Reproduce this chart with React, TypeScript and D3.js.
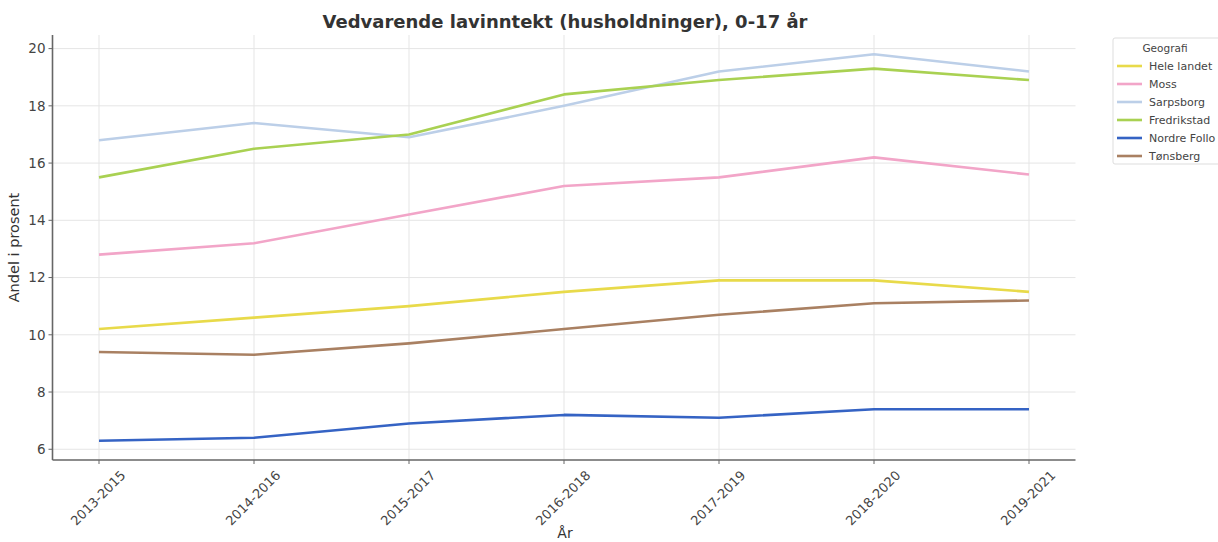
import React from "react";
import * as d3 from "d3";

const periods = ["2013-2015", "2014-2016", "2015-2017", "2016-2018", "2017-2019", "2018-2020", "2019-2021"];
const heleLandet = [10.2, 10.6, 11.0, 11.5, 11.9, 11.9, 11.5];
const moss = [12.8, 13.2, 14.2, 15.2, 15.5, 16.2, 15.6];
const sarpsborg = [16.8, 17.4, 16.9, 18.0, 19.2, 19.8, 19.2];
const fredrikstad = [15.5, 16.5, 17.0, 18.4, 18.9, 19.3, 18.9];
const nordreFollo = [6.3, 6.4, 6.9, 7.2, 7.1, 7.4, 7.4];
const tonsberg = [9.4, 9.3, 9.7, 10.2, 10.7, 11.1, 11.2];
const yTicks = [6, 8, 10, 12, 14, 16, 18, 20];

const series = [
  { name: "Hele landet", values: heleLandet, color: "#e8da4a" },
  { name: "Moss", values: moss, color: "#f2a5c8" },
  { name: "Sarpsborg", values: sarpsborg, color: "#bccfe8" },
  { name: "Fredrikstad", values: fredrikstad, color: "#a9d152" },
  { name: "Nordre Follo", values: nordreFollo, color: "#3563c4" },
  { name: "Tønsberg", values: tonsberg, color: "#a98062" },
];

const W = 1218, H = 542;
const L = 52.5, R = 1075.5, T = 35, B = 460;
const FONT = "DejaVu Sans, sans-serif";

export default function App() {
  const x = d3.scalePoint<string>().domain(periods).range([L, R]).padding(0.3);
  const all = series.flatMap((s) => s.values);
  const mn = d3.min(all)!, mx = d3.max(all)!;
  const pad = (mx - mn) * 0.05;
  const y = d3.scaleLinear().domain([mn - pad, mx + pad]).range([B, T]);
  const line = d3.line<number>().x((_, i) => x(periods[i])!).y((v) => y(v));

  return (
    <svg width={W} height={H} style={{ position: "absolute", left: 0, top: 0, background: "#fff" }} fontFamily={FONT}>
      <rect width={W} height={H} fill="#fff" />
      <text x={565} y={28} textAnchor="middle" fontSize={18} fontWeight="bold" fill="#333">
        Vedvarende lavinntekt (husholdninger), 0-17 år
      </text>
      {periods.map((p) => (
        <line key={p} x1={x(p)} x2={x(p)} y1={T} y2={B} stroke="#e5e5e5" strokeWidth={1} />
      ))}
      {yTicks.map((t) => (
        <line key={t} x1={L} x2={R} y1={y(t)} y2={y(t)} stroke="#e5e5e5" strokeWidth={1} />
      ))}
      {series.map((s) => (
        <path key={s.name} d={line(s.values)!} fill="none" stroke={s.color} strokeWidth={2.6} strokeLinejoin="round" />
      ))}
      <line x1={L} x2={L} y1={T} y2={B} stroke="#666" strokeWidth={1.6} />
      <line x1={L} x2={R} y1={B} y2={B} stroke="#666" strokeWidth={1.6} />
      {yTicks.map((t) => (
        <g key={t}>
          <line x1={L - 4} x2={L} y1={y(t)} y2={y(t)} stroke="#666" strokeWidth={1} />
          <text x={L - 7} y={y(t)} dy="0.35em" textAnchor="end" fontSize={13.5} fill="#444">{t}</text>
        </g>
      ))}
      {periods.map((p) => (
        <g key={p}>
          <line x1={x(p)} x2={x(p)} y1={B} y2={B + 4} stroke="#666" strokeWidth={1} />
          <text transform={`translate(${x(p)! - 1},${B + 38}) rotate(-45)`} textAnchor="middle" dy="0.35em" fontSize={13} fill="#444">{p}</text>
        </g>
      ))}
      <text x={565} y={538} textAnchor="middle" fontSize={14} fill="#333">År</text>
      <text transform={`translate(19,${(T + B) / 2}) rotate(-90)`} textAnchor="middle" fontSize={14.5} fill="#333">Andel i prosent</text>
      <rect x={1113} y={38} width={112} height={126} fill="#fff" stroke="#ddd" strokeWidth={1} rx={2} />
      <text x={1165} y={52} textAnchor="middle" fontSize={10.5} fill="#444">Geografi</text>
      {series.map((s, i) => (
        <g key={s.name} transform={`translate(0,${66 + i * 18})`}>
          <line x1={1117} x2={1142} y1={0} y2={0} stroke={s.color} strokeWidth={2.6} />
          <text x={1149} y={0} dy="0.35em" fontSize={11} fill="#444">{s.name}</text>
        </g>
      ))}
    </svg>
  );
}
